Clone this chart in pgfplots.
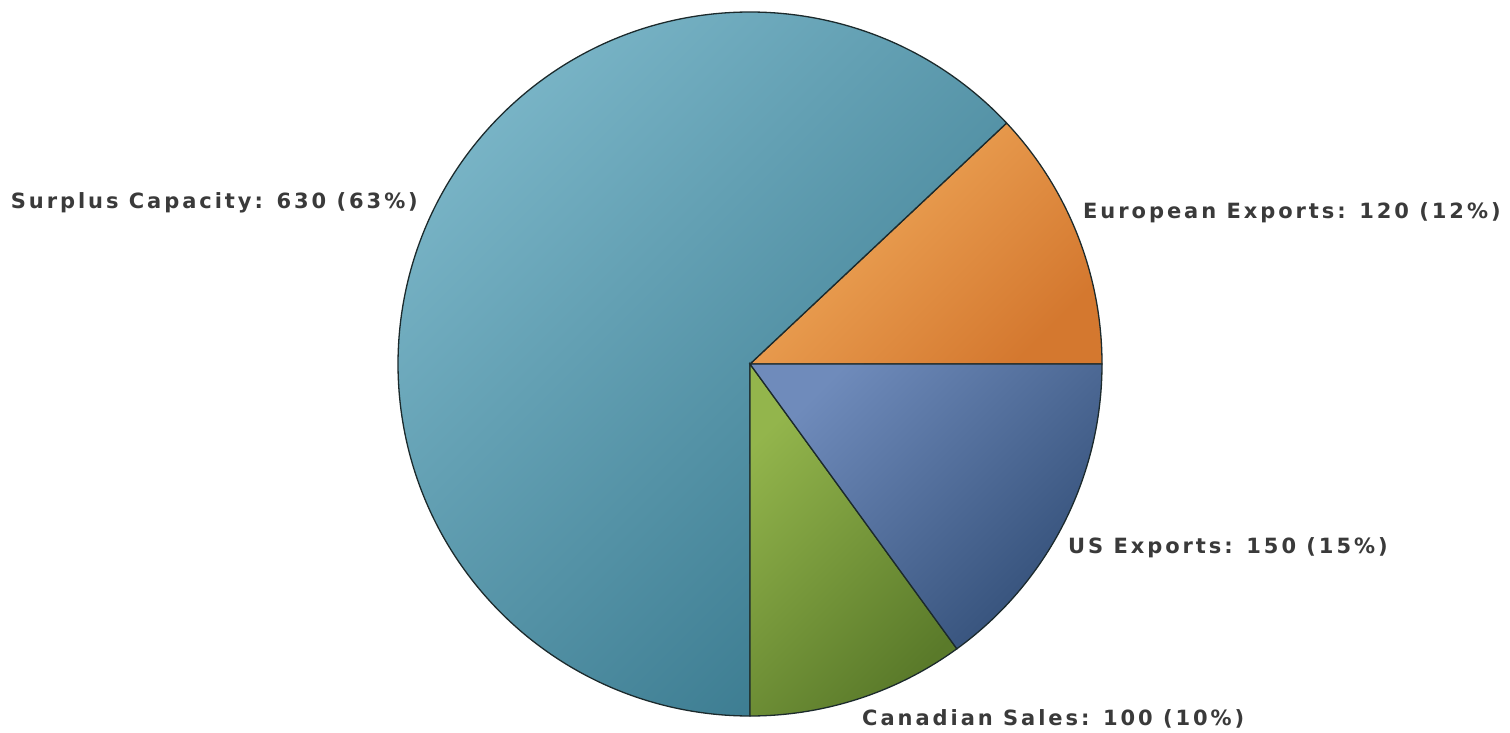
\documentclass[border=0pt]{standalone}
\usepackage{pgfplots}
\pgfplotsset{compat=1.18}
\usepackage{pgfplotstable}
\usepackage{fontspec}
\setmainfont{DejaVu Sans}
\newfontfamily\labfont[LetterSpace=14, BoldFont={DejaVu Sans Bold}]{DejaVu Sans}
\definecolor{surT}{HTML}{7DB8CA}
\definecolor{surB}{HTML}{3A7A8F}
\definecolor{euT}{HTML}{F2AD5E}
\definecolor{euB}{HTML}{D4782F}
\definecolor{usT}{HTML}{6F8BBB}
\definecolor{usB}{HTML}{334F78}
\definecolor{caT}{HTML}{93B54C}
\definecolor{caB}{HTML}{5A7A2A}
\definecolor{lab}{HTML}{3A3A3A}
\definecolor{edge}{HTML}{1C2A2C}
\pgfplotstableread{
label value
European 120
Surplus 630
Canadian 100
US 150
}\piedata
\begin{document}
\begin{tikzpicture}
\pgfplotstablegetelem{0}{value}\of\piedata \let\vA\pgfplotsretval
\pgfplotstablegetelem{1}{value}\of\piedata \let\vB\pgfplotsretval
\pgfplotstablegetelem{2}{value}\of\piedata \let\vC\pgfplotsretval
\pgfplotstablegetelem{3}{value}\of\piedata \let\vD\pgfplotsretval
\pgfmathsetmacro\total{\vA+\vB+\vC+\vD}
\pgfmathsetmacro\aA{360*(\vA/\total)}
\pgfmathsetmacro\aB{\aA+360*(\vB/\total)}
\pgfmathsetmacro\aC{\aB+360*(\vC/\total)}
\def\cx{750}\def\cy{368}\def\r{352}
\begin{axis}[name=ax, hide axis, scale only axis, width=1510pt, height=732pt,
  xmin=0, xmax=1510, ymin=0, ymax=732, clip=false]
\shade[draw=edge, line width=1.3pt, top color=euT, bottom color=euB, shading angle=45]
  (axis cs:\cx,\cy) -- (axis cs:{\cx+\r},\cy) arc[start angle=0, end angle=\aA, radius=\r] -- cycle;
\shade[draw=edge, line width=1.3pt, top color=surT, bottom color=surB, shading angle=45]
  (axis cs:\cx,\cy) -- (axis cs:{\cx+\r*cos(\aA)},{\cy+\r*sin(\aA)}) arc[start angle=\aA, end angle=\aB, radius=\r] -- cycle;
\shade[draw=edge, line width=1.3pt, top color=caT, bottom color=caB, shading angle=45]
  (axis cs:\cx,\cy) -- (axis cs:{\cx+\r*cos(\aB)},{\cy+\r*sin(\aB)}) arc[start angle=\aB, end angle=\aC, radius=\r] -- cycle;
\shade[draw=edge, line width=1.3pt, top color=usT, bottom color=usB, shading angle=45]
  (axis cs:\cx,\cy) -- (axis cs:{\cx+\r*cos(\aC)},{\cy+\r*sin(\aC)}) arc[start angle=\aC, end angle=360, radius=\r] -- cycle;
\begin{scope}[every node/.style={text=lab, font=\labfont\fontsize{21}{25}\selectfont\bfseries, inner sep=0pt}]
\node[anchor=east] at (axis cs:418,529) {Surplus Capacity: 630 (63\%)};
\node[anchor=west] at (axis cs:1083,519) {European Exports: 120 (12\%)};
\node[anchor=west] at (axis cs:1068,184) {US Exports: 150 (15\%)};
\node[anchor=west] at (axis cs:862,13) {Canadian Sales: 100 (10\%)};
\end{scope}
\end{axis}
\pgfresetboundingbox
\path (ax.south west) rectangle (ax.north east);
\end{tikzpicture}
\end{document}
